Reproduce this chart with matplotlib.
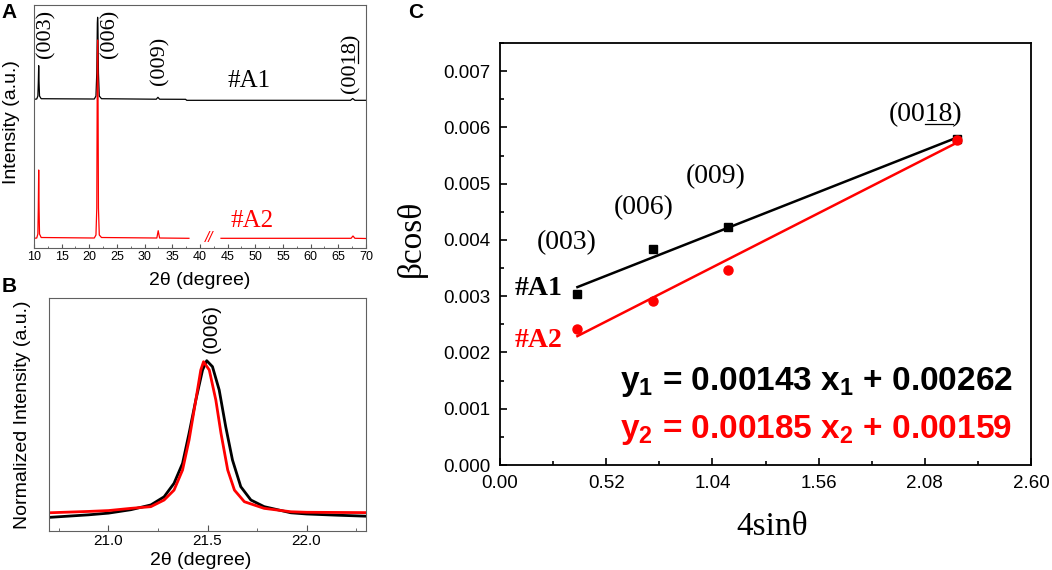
import numpy as np
import matplotlib
matplotlib.use("Agg")
import matplotlib.pyplot as plt
from matplotlib.ticker import MultipleLocator
from matplotlib.lines import Line2D

plt.rcParams['font.family'] = ['Liberation Sans', 'DejaVu Sans']
plt.rcParams['mathtext.fontset'] = 'custom'
plt.rcParams['mathtext.rm'] = 'Liberation Sans'
plt.rcParams['mathtext.bf'] = 'Liberation Sans:bold'

SERIF = ['Liberation Serif', 'DejaVu Serif']

# ---- panel A : XRD patterns (arbitrary units) ----
a1_x = [10.0, 10.5, 10.7, 10.78, 10.85, 10.92, 11.0, 11.3,
        20.9, 21.2, 21.35, 21.45, 21.5, 21.55, 21.65, 21.8, 22.2,
        32.1, 32.4, 32.7, 37.4, 37.6, 67.2, 67.6, 68.0, 70.0]
a1_y = [148.7, 149.0, 152, 165, 182.3, 165, 152, 149.3,
        149.0, 152, 175, 225, 230.7, 225, 175, 152, 149.3,
        148.8, 150.7, 148.8, 148.7, 147.7, 147.7, 149.5, 147.7, 147.7]

a2_x = [10.0, 10.5, 10.7, 10.78, 10.85, 10.92, 11.0, 11.3,
        20.9, 21.2, 21.35, 21.45, 21.5, 21.55, 21.65, 21.8, 22.2,
        32.2, 32.45, 32.7, 38.0, np.nan, 43.8, 67.3, 67.65, 68.0, 70.0]
a2_y = [9.7, 10.0, 14, 40, 78, 40, 14, 10.5,
        10.0, 13, 40, 190, 208, 190, 40, 13, 10.5,
        10.0, 17.3, 10.0, 9.7, np.nan, 9.7, 9.7, 12.0, 9.7, 9.5]

a_peaks = ['(003)', '(006)', '(009)', '(0018)']
a_peak_x = [12.1, 23.7, 32.7, 67.2]
a_peak_y = [214, 214, 187, 185]

# ---- panel B : normalized (006) peak ----
b_x_black = [20.70, 20.90, 21.00, 21.113, 21.214, 21.281, 21.331, 21.374, 21.407,
             21.441, 21.475, 21.496, 21.525, 21.559, 21.592, 21.626, 21.668,
             21.719, 21.786, 21.921, 22.00, 22.15, 22.30]
b_y_black = [0.080, 0.095, 0.105, 0.125, 0.153, 0.201, 0.280, 0.397, 0.574,
             0.769, 0.945, 1.000, 0.965, 0.828, 0.612, 0.417, 0.260,
             0.182, 0.143, 0.107, 0.100, 0.093, 0.087]
b_x_red = [20.70, 20.90, 21.00, 21.113, 21.214, 21.281, 21.331, 21.374, 21.407,
           21.441, 21.466, 21.480, 21.509, 21.542, 21.568, 21.602, 21.636,
           21.686, 21.786, 21.921, 22.00, 22.30]
b_y_red = [0.107, 0.115, 0.120, 0.133, 0.143, 0.182, 0.240, 0.358, 0.535,
           0.769, 0.945, 0.994, 0.945, 0.769, 0.574, 0.358, 0.240,
           0.172, 0.133, 0.113, 0.110, 0.108]

# ---- panel C : Williamson-Hall ----
c_planes = ['(003)', '(006)', '(009)', '(0018)']
c_x = [0.379, 0.747, 1.118, 2.239]
c_a1 = [0.00304, 0.00384, 0.00423, 0.00580]
c_a2 = [0.00242, 0.00292, 0.00346, 0.00577]
fit1 = (0.00143, 0.00262)
fit2 = (0.00185, 0.00159)
c_lab_x = [0.327, 0.703, 1.054, 2.083]
c_lab_y = [0.00396, 0.00457, 0.00512, 0.00623]

fig = plt.figure(figsize=(10.52, 5.70), dpi=100)
underlined = []   # (text artist, rotated?) for the (0018) labels

# panel A
axA = fig.add_axes([0.0323, 0.5649, 0.3156, 0.4263])
axA.plot(a1_x, a1_y, color='black', lw=0.9)
axA.plot(a2_x, a2_y, color='red', lw=0.9)
axA.set_xlim(10, 70)
axA.set_ylim(0, 243)
axA.set_yticks([])
axA.xaxis.set_major_locator(MultipleLocator(5))
axA.xaxis.set_minor_locator(MultipleLocator(2.5))
axA.tick_params(axis='x', which='both', direction='in', labelsize=9, pad=2,
                color='#555555')
axA.tick_params(axis='x', which='major', length=3)
axA.tick_params(axis='x', which='minor', length=1.5)
for sp in axA.spines.values():
    sp.set_color('#606060')
for lab, x, y in zip(a_peaks, a_peak_x, a_peak_y):
    t = axA.text(x, y, lab, rotation=90, ha='center', va='center',
                 fontsize=16, family=SERIF)
    if lab == '(0018)':
        underlined.append((t, True))
axA.text(48.8, 167, '#A1', fontsize=18, family=SERIF, ha='center', va='center')
axA.text(49.4, 27, '#A2', fontsize=18, family=SERIF, color='red',
         ha='center', va='center')
axA.text(41.6, 10, '//', fontsize=11, color='red', style='italic',
         ha='center', va='center')
axA.set_xlabel('2θ (degree)', fontsize=14, va='center')
axA.xaxis.set_label_coords(0.5, -0.132)
axA.set_ylabel('Intensity (a.u.)', fontsize=14, va='center')
axA.yaxis.set_label_coords(-0.069, 0.518)

# panel B
axB = fig.add_axes([0.0466, 0.0684, 0.3013, 0.4088])
axB.plot(b_x_black, b_y_black, color='black', lw=2.0)
axB.plot(b_x_red, b_y_red, color='red', lw=2.0)
axB.set_xlim(20.7, 22.3)
axB.set_ylim(0, 1.368)
axB.set_yticks([])
axB.set_xticks([21.0, 21.5, 22.0])
axB.xaxis.set_minor_locator(MultipleLocator(0.25))
axB.tick_params(axis='x', which='both', direction='in', labelsize=11, pad=2,
                color='#555555')
axB.tick_params(axis='x', which='major', length=4)
axB.tick_params(axis='x', which='minor', length=2.5)
for sp in axB.spines.values():
    sp.set_color('#606060')
axB.text(21.52, 1.19, '(006)', rotation=90, ha='center', va='center', fontsize=15)
axB.set_xlabel('2θ (degree)', fontsize=14, va='center')
axB.xaxis.set_label_coords(0.48, -0.128)
axB.set_ylabel('Normalized Intensity (a.u.)', fontsize=14, va='center')
axB.yaxis.set_label_coords(-0.085, 0.5)

# panel C
axC = fig.add_axes([0.4753, 0.1842, 0.5048, 0.7404])
xs = np.array([c_x[0], c_x[-1]])
axC.plot(xs, fit1[0] * xs + fit1[1], color='black', lw=1.8)
axC.plot(c_x, c_a1, 's', color='black', ms=6)
axC.plot(xs, fit2[0] * xs + fit2[1], color='red', lw=1.8)
axC.plot(c_x, c_a2, 'o', color='red', ms=6.5)
axC.set_xlim(0, 2.6)
axC.set_ylim(0, 0.0075)
axC.set_xticks(np.arange(0, 2.61, 0.52))
axC.set_xticklabels(['0.00', '0.52', '1.04', '1.56', '2.08', '2.60'])
axC.xaxis.set_minor_locator(MultipleLocator(0.26))
axC.set_yticks(np.arange(0, 0.0071, 0.001))
axC.set_yticklabels(['%.3f' % v for v in np.arange(0, 0.0071, 0.001)])
axC.yaxis.set_minor_locator(MultipleLocator(0.0005))
axC.tick_params(which='both', direction='in', labelsize=13.5, pad=7, width=1.2)
axC.tick_params(which='major', length=5)
axC.tick_params(which='minor', length=3)
for sp in axC.spines.values():
    sp.set_linewidth(1.3)
for lab, x, y in zip(c_planes, c_lab_x, c_lab_y):
    t = axC.text(x, y, lab, ha='center', va='center', fontsize=20, family=SERIF)
    if lab == '(0018)':
        underlined.append((t, False))
axC.text(0.188, 0.00313, '#A1', ha='center', va='center', fontsize=20,
         family=SERIF, weight='bold')
axC.text(0.188, 0.00222, '#A2', ha='center', va='center', fontsize=20,
         family=SERIF, weight='bold', color='red')
axC.text(2.51, 0.001335, r'$\mathbf{y_1}$ = %.5f $\mathbf{x_1}$ + %.5f' % fit1,
         ha='right', va='baseline', fontsize=24, weight='bold')
axC.text(2.51, 0.000475, r'$\mathbf{y_2}$ = %.5f $\mathbf{x_2}$ + %.5f' % fit2,
         ha='right', va='baseline', fontsize=24, weight='bold', color='red')
axC.set_xlabel('4sinθ', fontsize=24, family=SERIF, va='center')
axC.xaxis.set_label_coords(0.512, -0.147)
axC.set_ylabel('βcosθ', fontsize=24, family=SERIF, va='center')
axC.yaxis.set_label_coords(-0.166, 0.538)

# panel letters
fig.text(9 / 1052, 1 - 12 / 570, 'A', fontsize=15, weight='bold', ha='center', va='center')
fig.text(9 / 1052, 1 - 287 / 570, 'B', fontsize=15, weight='bold', ha='center', va='center')
fig.text(416 / 1052, 1 - 13 / 570, 'C', fontsize=15, weight='bold', ha='center', va='center')

# underline the "18" of (0018) by hand
fig.canvas.draw()
rend = fig.canvas.get_renderer()
W, H = fig.bbox.width, fig.bbox.height
for t, rot in underlined:
    prop = t.get_fontproperties()
    bb = t.get_window_extent(rend)
    w0, _, _ = rend.get_text_width_height_descent('(00', prop, ismath=False)
    w18, _, d = rend.get_text_width_height_descent('18', prop, ismath=False)
    _, _, dfull = rend.get_text_width_height_descent('(0018)', prop, ismath=False)
    size_px = prop.get_size_in_points() * fig.dpi / 72
    off = dfull - 0.09 * size_px
    if rot:
        xl = bb.x1 - off
        ys = [bb.y0 + w0, bb.y0 + w0 + w18]
        fig.add_artist(Line2D([xl / W, xl / W], [ys[0] / H, ys[1] / H],
                              transform=fig.transFigure, color='black', lw=0.9))
    else:
        yl = bb.y0 + off
        xsl = [bb.x0 + w0, bb.x0 + w0 + w18]
        fig.add_artist(Line2D([xsl[0] / W, xsl[1] / W], [yl / H, yl / H],
                              transform=fig.transFigure, color='black', lw=0.9))

fig.savefig('out.png', dpi=100)
